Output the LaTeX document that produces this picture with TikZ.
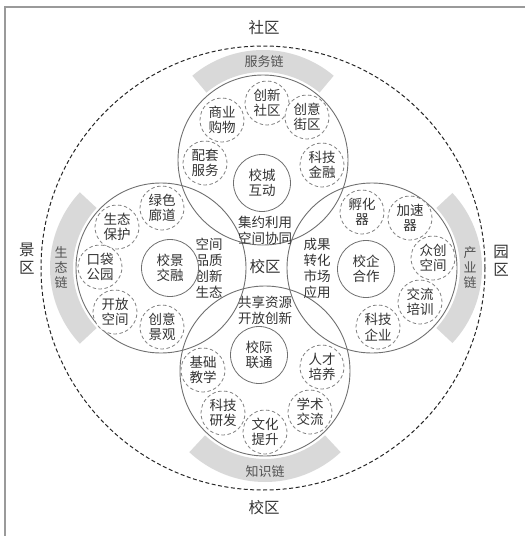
\documentclass[tikz,border=0pt]{standalone}
\usepackage{fontspec}
\setmainfont{Noto Sans CJK SC}
\definecolor{txtgray}{HTML}{333333}
\definecolor{linegray}{HTML}{707070}
\definecolor{dashgray}{HTML}{808080}
\definecolor{bandgray}{HTML}{D9D9D9}
\definecolor{framegray}{HTML}{9A9A9A}
\begin{document}
\begin{tikzpicture}[x=1pt,y=-1pt,
  txt/.style={text=txtgray, align=center, font=\fontsize{13.5}{15.5}\selectfont, inner sep=0pt},
  bigc/.style={circle, draw=linegray, line width=0.9pt, minimum size=170pt, inner sep=0pt},
  hub/.style={circle, draw=linegray, line width=0.8pt, fill=white, minimum size=57pt, inner sep=0pt, txt},
  leaf/.style={circle, draw=dashgray, dash pattern=on 3.5pt off 2.5pt, line width=0.8pt, fill=white, minimum size=44pt, inner sep=0pt, txt},
  band/.style={fill=bandgray},
  bandlbl/.style={text=txtgray!85, align=center, font=\fontsize{13}{15}\selectfont, inner sep=0pt},
  zone/.style={text=txtgray, align=center, font=\fontsize{15.5}{18}\selectfont, inner sep=0pt},
  midtxt/.style={txt, font=\fontsize{13.5}{16}\selectfont}
]
\useasboundingbox (0,0) rectangle (525,536);
% frame
\coordinate (frA) at (525,7);
\coordinate (frB) at (5,7);
\coordinate (frC) at (5,536);
\draw[framegray, line width=1.3pt] (frA) -- (frB) -- (frC);

% circle centres
\coordinate (T) at (263,160);
\coordinate (B) at (265,371);
\coordinate (L) at (161,268);
\coordinate (R) at (372,268);
\coordinate (O) at (263,268);

% gray bands
\fill[band] (T) ++(230:110) arc[start angle=230, end angle=310, radius=110] -- ++(310:-22) arc[start angle=310, end angle=230, radius=88] -- cycle;
\fill[band] (B) ++(47:111) arc[start angle=47, end angle=133, radius=111] -- ++(133:-23) arc[start angle=133, end angle=47, radius=88] -- cycle;
\fill[band] (L) ++(137:111) arc[start angle=137, end angle=223, radius=111] -- ++(223:-23) arc[start angle=223, end angle=137, radius=88] -- cycle;
\fill[band] (R) ++(-43:110) arc[start angle=-43, end angle=43, radius=110] -- ++(43:-22) arc[start angle=43, end angle=-43, radius=88] -- cycle;

% outer dashed circle
\node[circle, draw=black!85, dash pattern=on 4pt off 2.5pt, line width=1pt, minimum size=444pt, inner sep=0pt] (outer) at (O) {};

% four big circles
\node[bigc] (ctop) at (T) {};
\node[bigc] (cbot) at (B) {};
\node[bigc] (cleft) at (L) {};
\node[bigc] (cright) at (R) {};

% band labels
\node[bandlbl] (lfw) at (264,62) {服务链};
\node[bandlbl] (lzs) at (265,472) {知识链};
\node[bandlbl] (lst) at (61,267) {生\\态\\链};
\node[bandlbl] (lcy) at (470,267) {产\\业\\链};

% zone labels
\node[zone] (zsq) at (264,28) {社区};
\node[zone] (zxq) at (264,508) {校区};
\node[zone] (zjq) at (27,259) {景\\区};
\node[zone] (zyq) at (501,261) {园\\区};

% centre
\node[txt, font=\fontsize{15.5}{18}\selectfont] (center) at (265,267) {校区};
\node[midtxt] (mtop) at (265,230) {集约利用\\空间协同};
\node[midtxt] (mbot) at (265,310) {共享资源\\开放创新};
\node[midtxt] (mleft) at (209,268) {空间\\品质\\创新\\生态};
\node[midtxt] (mright) at (317,268) {成果\\转化\\市场\\应用};

% hubs
\node[hub] (htop) at (262,183) {校城\\互动};
\node[hub] (hleft) at (170,268) {校景\\交融};
\node[hub] (hright) at (366,269) {校企\\合作};
\node[hub] (hbot) at (259,355) {校际\\联通};

% top leaves
\node[leaf] (t1) at (267,103) {创新\\社区};
\node[leaf] (t2) at (222,120) {商业\\购物};
\node[leaf] (t3) at (307,117) {创意\\街区};
\node[leaf] (t4) at (205,163) {配套\\服务};
\node[leaf] (t5) at (322,165) {科技\\金融};

% left leaves
\node[leaf] (l1) at (162,208) {绿色\\廊道};
\node[leaf] (l2) at (117,227) {生态\\保护};
\node[leaf] (l3) at (100,267) {口袋\\公园};
\node[leaf] (l4) at (115,312) {开放\\空间};
\node[leaf] (l5) at (162,327) {创意\\景观};

% right leaves
\node[leaf] (r1) at (362,212) {孵化\\器};
\node[leaf] (r2) at (410,218) {加速\\器};
\node[leaf] (r3) at (433,258) {众创\\空间};
\node[leaf] (r4) at (420,302) {交流\\培训};
\node[leaf] (r5) at (378,327) {科技\\企业};

% bottom leaves
\node[leaf] (b1) at (203,370) {基础\\教学};
\node[leaf] (b2) at (322,367) {人才\\培养};
\node[leaf] (b3) at (223,413) {科技\\研发};
\node[leaf] (b4) at (265,432) {文化\\提升};
\node[leaf] (b5) at (310,412) {学术\\交流};
\end{tikzpicture}
\end{document}
